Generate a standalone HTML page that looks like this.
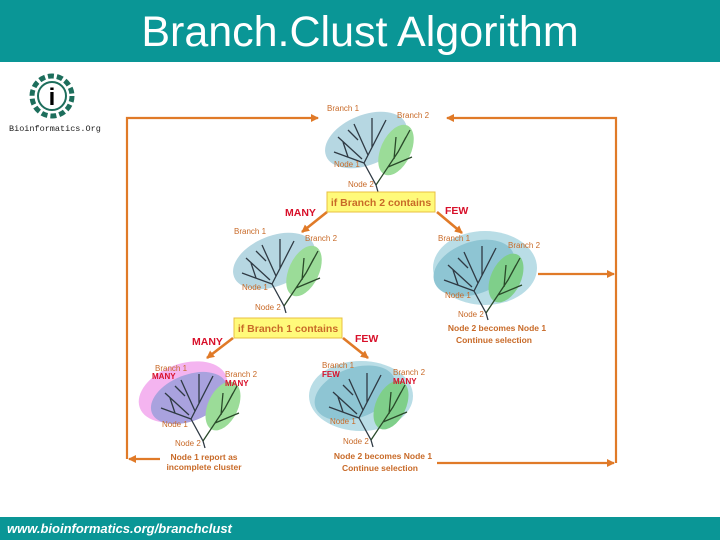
<!DOCTYPE html>
<html><head><meta charset="utf-8"><style>
html,body{margin:0;padding:0;background:#fff;}
body{width:720px;height:540px;position:relative;overflow:hidden;font-family:"Liberation Sans",sans-serif;}
.hdr{position:absolute;left:0;top:0;width:720px;height:62px;background:#0a9696;color:#fff;font-size:43px;text-align:center;line-height:64px;}
.ftr{position:absolute;left:0;top:517px;width:720px;height:23px;background:#0a9696;color:#fff;font-size:13px;font-style:italic;font-weight:bold;line-height:24px;padding-left:7px;box-sizing:border-box;}
svg{position:absolute;left:0;top:0;}
</style></head><body>
<div class="hdr">Branch.Clust Algorithm</div>
<svg width="720" height="540" viewBox="0 0 720 540" font-family="Liberation Sans, sans-serif">
<defs>
<g id="tree" stroke="#2f3a44" stroke-width="1.3" fill="none">
<path d="M0,0 L-2,-7 L-14,-29 M-14,-29 L8,-72 M-14,-29 L-44,-40 M-16,-33 L-40,-55 M-10,-37 L-24,-68 M-6,-45 L-6,-74 M-30,-35 L-35,-50 M-20,-52 L-30,-62"/>
<path stroke="#2a4a2a" d="M-2,-7 L20,-40 L32,-62 M10,-25 L34,-35 M16,-33 L18,-55 M20,-40 L28,-55"/>
</g>
<marker id="ah" markerWidth="8" markerHeight="8" refX="7" refY="4" orient="auto" markerUnits="userSpaceOnUse"><path d="M0,0 L8,4 L0,8z" fill="#e07a28"/></marker>
</defs>
<g transform="translate(52,96)">
<circle r="20" fill="none" stroke="#1d6e5c" stroke-width="5" stroke-dasharray="6 3"/>
<circle r="14" fill="none" stroke="#1d6e5c" stroke-width="2"/>
<text x="0" y="9" font-size="24" font-weight="bold" text-anchor="middle" fill="#000">i</text>
</g>
<text x="9" y="131" font-family="Liberation Mono, monospace" font-size="8.5" fill="#222">Bioinformatics.Org</text>
<g stroke="#e07a28" stroke-width="2.2" fill="none">
<path d="M127,459 L127,118 L318,118" marker-end="url(#ah)"/>
<path d="M616,463 L616,118 L447,118" marker-end="url(#ah)"/>
<path d="M538,274 L614,274" marker-end="url(#ah)"/>
<path d="M160,459 L129,459" marker-end="url(#ah)"/>
<path d="M437,463 L614,463" marker-end="url(#ah)"/>
<path d="M327,212 L302,232" marker-end="url(#ah)" stroke-width="2.6"/>
<path d="M437,212 L462,233" marker-end="url(#ah)" stroke-width="2.6"/>
<path d="M233,338 L207,358" marker-end="url(#ah)" stroke-width="2.6"/>
<path d="M343,338 L368,358" marker-end="url(#ah)" stroke-width="2.6"/>
</g>
<g transform="translate(378,192)">
<ellipse cx="-12" cy="-52" rx="43" ry="25" transform="rotate(-22 -12 -52)" fill="#b6d7e2"/>
<ellipse cx="18" cy="-42" rx="15" ry="27" transform="rotate(25 18 -42)" fill="#9bdc98"/>
<use href="#tree"/>
</g>
<g transform="translate(286,313)">
<ellipse cx="-12" cy="-52" rx="43" ry="25" transform="rotate(-22 -12 -52)" fill="#b6d7e2"/>
<ellipse cx="18" cy="-42" rx="15" ry="27" transform="rotate(25 18 -42)" fill="#9bdc98"/>
<use href="#tree"/>
</g>
<g transform="translate(488,320)">
<ellipse cx="-3" cy="-52" rx="52" ry="37" fill="#b9dde6"/>
<ellipse cx="-14" cy="-52" rx="42" ry="26" transform="rotate(-20 -14 -52)" fill="#8ec5d3"/>
<ellipse cx="18" cy="-42" rx="15" ry="26" transform="rotate(25 18 -42)" fill="#7fcf8a"/>
<use href="#tree"/>
</g>
<g transform="translate(205,448)">
<ellipse cx="-22" cy="-56" rx="46" ry="28" transform="rotate(-20 -22 -56)" fill="#f4b4f0"/>
<ellipse cx="-16" cy="-50" rx="40" ry="23" transform="rotate(-22 -16 -50)" fill="#a9a2de"/>
<ellipse cx="18" cy="-42" rx="15" ry="26" transform="rotate(25 18 -42)" fill="#9bdc98"/>
<use href="#tree"/>
</g>
<g transform="translate(373,447)">
<ellipse cx="-12" cy="-51" rx="52" ry="35" fill="#b9dde6"/>
<ellipse cx="-18" cy="-54" rx="42" ry="25" transform="rotate(-20 -18 -54)" fill="#8ec5d3"/>
<ellipse cx="18" cy="-42" rx="15" ry="26" transform="rotate(25 18 -42)" fill="#7fcf8a"/>
<use href="#tree"/>
</g>
<g font-size="8" fill="#c86a28">
<text x="327" y="111">Branch 1</text><text x="397" y="118">Branch 2</text>
<text x="334" y="167">Node 1</text><text x="348" y="187">Node 2</text>
<text x="234" y="234">Branch 1</text><text x="305" y="241">Branch 2</text>
<text x="242" y="290">Node 1</text><text x="255" y="310">Node 2</text>
<text x="438" y="241">Branch 1</text><text x="508" y="248">Branch 2</text>
<text x="445" y="298">Node 1</text><text x="458" y="317">Node 2</text>
<text x="155" y="371">Branch 1</text><text x="225" y="377">Branch 2</text>
<text x="162" y="427">Node 1</text><text x="175" y="446">Node 2</text>
<text x="322" y="368">Branch 1</text><text x="393" y="375">Branch 2</text>
<text x="330" y="424">Node 1</text><text x="343" y="444">Node 2</text>
</g>
<g font-size="8" font-weight="bold" fill="#d8102a">
<text x="152" y="379">MANY</text><text x="225" y="386">MANY</text>
<text x="322" y="377">FEW</text><text x="393" y="384">MANY</text>
</g>
<rect x="327" y="192" width="108" height="20" fill="#fffa7a" stroke="#e8c040"/>
<text x="381" y="206" font-size="10.5" font-weight="bold" fill="#c86a28" text-anchor="middle">if Branch 2 contains</text>
<rect x="234" y="318" width="108" height="20" fill="#fffa7a" stroke="#e8c040"/>
<text x="288" y="332" font-size="10.5" font-weight="bold" fill="#c86a28" text-anchor="middle">if Branch 1 contains</text>
<g font-size="10.5" font-weight="bold" fill="#d8102a">
<text x="285" y="216">MANY</text><text x="445" y="214">FEW</text>
<text x="192" y="345">MANY</text><text x="355" y="342">FEW</text>
</g>
<g font-size="8.5" font-weight="bold" fill="#c86a28" text-anchor="middle">
<text x="497" y="331">Node 2 becomes Node 1</text><text x="494" y="343">Continue selection</text>
<text x="204" y="460">Node 1 report as</text><text x="204" y="470">incomplete cluster</text>
<text x="383" y="459">Node 2 becomes Node 1</text><text x="380" y="471">Continue selection</text>
</g>
</svg>
<div class="ftr">www.bioinformatics.org/branchclust</div>
</body></html>
